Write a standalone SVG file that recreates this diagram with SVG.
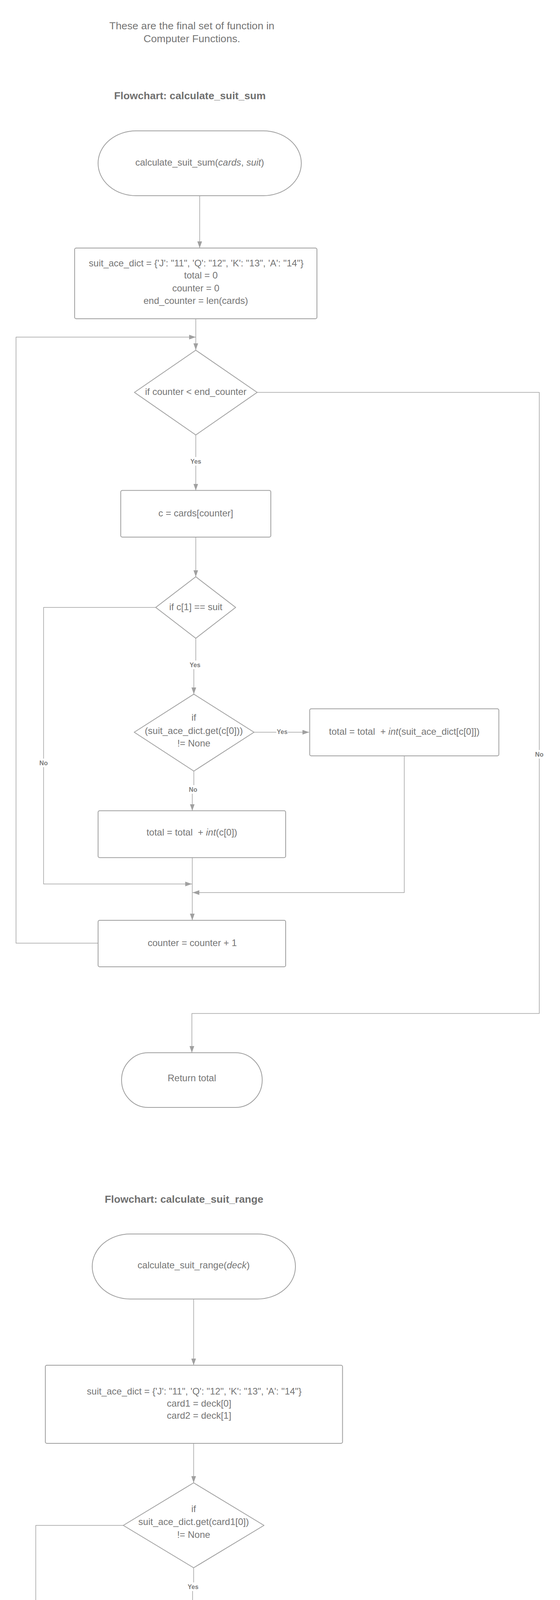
<svg xmlns="http://www.w3.org/2000/svg" width="1433" height="5355" viewBox="0 0 1433 5355">
<style>
text{font-family:"Liberation Sans",Arial,sans-serif;fill:#757575;text-anchor:middle}
.t{font-size:24px}
.h{font-size:26.67px;font-weight:bold;fill:#707070}
.ti{font-size:26.67px}
.lb{font-size:16px;font-weight:bold;fill:#7a7a7a}
.s{fill:#ffffff;stroke:#9e9e9e;stroke-width:2;stroke-linejoin:round}
.c{fill:none;stroke:#a0a0a0;stroke-width:1.5;stroke-linejoin:round;marker-end:url(#ah)}
.cn{fill:none;stroke:#a0a0a0;stroke-width:1.5;stroke-linejoin:round}
.bg{fill:#ffffff}
.i{font-style:italic}
</style>
<defs>
<marker id="ah" viewBox="0 0 17 12" refX="17" refY="6" markerWidth="17" markerHeight="12" markerUnits="userSpaceOnUse" orient="auto">
<path d="M0,0 L17,6 L0,12 z" fill="#a0a0a0"/>
</marker>
</defs>
<rect width="1433" height="5355" fill="#ffffff"/>

<g id="title">
<text class="ti" x="491" y="75">These are the final set of function in</text>
<text class="ti" x="491" y="108">Computer Functions.</text>
</g>
<g id="heading1"><text class="h" x="486" y="254">Flowchart: calculate_suit_sum</text></g>

<g id="connectors">
<path class="c" d="M511,501 V635"/>
<path class="c" d="M501,816 V896"/>
<path class="c" d="M251,2414.5 H41 V863 H501"/>
<path class="c" d="M658,1004.5 H1380 V2594.5 H491 V2695"/>
<path class="c" d="M501,1113.5 V1255.5"/>
<path class="c" d="M501,1375 V1476.5"/>
<path class="c" d="M398.5,1555 H111.5 V2263 H491"/>
<path class="c" d="M501,1634 V1702 H496 V1777"/>
<path class="c" d="M650,1874.5 H791"/>
<path class="c" d="M1034.5,1935 V2285 H493"/>
<path class="c" d="M496,1974 V2021 H492 V2075.5"/>
<path class="c" d="M492,2195.5 V2356"/>
<path class="c" d="M495.5,3325.5 V3495"/>
<path class="c" d="M495.5,3695 V3796"/>
<path class="c" d="M315.5,3905 H91.5 V4774 H492 V4836"/>
<path class="c" d="M495.5,4013.5 V4062 H492.7 V4116.5"/>
<path class="c" d="M672,4224.5 H809"/>
<path class="c" d="M492.7,4334 V4455"/>
<path class="c" d="M672,4945 H829"/>
<path class="c" d="M492,5053.5 V5175"/>
<g id="labels">
<rect class="bg" x="486" y="1170" width="30" height="22"/><text class="lb" x="501" y="1187">Yes</text>
<rect class="bg" x="1368" y="1920" width="24" height="22"/><text class="lb" x="1380" y="1937">No</text>
<rect class="bg" x="99" y="1942" width="24" height="22"/><text class="lb" x="111.5" y="1959">No</text>
<rect class="bg" x="484" y="1691" width="30" height="22"/><text class="lb" x="499" y="1708">Yes</text>
<rect class="bg" x="707" y="1864" width="30" height="20"/><text class="lb" x="722" y="1879">Yes</text>
<rect class="bg" x="482" y="2010" width="24" height="22"/><text class="lb" x="494" y="2027">No</text>
<rect class="bg" x="79" y="4444" width="24" height="22"/><text class="lb" x="91.5" y="4461">No</text>
<rect class="bg" x="479" y="4051" width="30" height="22"/><text class="lb" x="494" y="4068">Yes</text>
<rect class="bg" x="725" y="4214" width="30" height="20"/><text class="lb" x="740" y="4229">Yes</text>
<rect class="bg" x="480" y="4380" width="24" height="22"/><text class="lb" x="492.7" y="4397">No</text>
<rect class="bg" x="735" y="4934" width="30" height="20"/><text class="lb" x="749.5" y="4948">Yes</text>
<rect class="bg" x="480" y="5100" width="24" height="22"/><text class="lb" x="492" y="5117">No</text>
</g>
</g>

<g id="start1">
<rect class="s" x="251" y="335" width="520" height="166" rx="97" ry="83"/>
<text class="t" x="511" y="424">calculate_suit_sum(<tspan class="i">cards</tspan>, <tspan class="i">suit</tspan>)</text>
</g>
<g id="init1">
<rect class="s" x="191" y="635" width="620" height="181" rx="4"/>
<text class="t" x="502" y="682">suit_ace_dict = {'J': "11", 'Q': "12", 'K': "13", 'A': "14"}</text>
<text class="t" x="514" y="713">total = 0</text>
<text class="t" x="501" y="745.5">counter = 0</text>
<text class="t" x="501" y="778">end_counter = len(cards)</text>
</g>
<g id="cond1">
<path class="s" d="M501,896.5 L658,1004.5 L501,1113.5 L344,1004.5 Z"/>
<text class="t" x="501" y="1011">if counter &lt; end_counter</text>
</g>
<g id="getcard">
<rect class="s" x="309" y="1255.5" width="384" height="119.5" rx="4"/>
<text class="t" x="501" y="1322">c = cards[counter]</text>
</g>
<g id="cond2">
<path class="s" d="M501,1476.5 L603,1555 L501,1634 L398.5,1555 Z"/>
<text class="t" x="501" y="1561.5">if c[1] == suit</text>
</g>
<g id="cond3">
<path class="s" d="M496,1777 L650,1874.5 L496,1974 L343.5,1874.5 Z"/>
<text class="t" x="496" y="1845">if</text>
<text class="t" x="496" y="1879">(suit_ace_dict.get(c[0]))</text>
<text class="t" x="496" y="1911">!= None</text>
</g>
<g id="addface">
<rect class="s" x="792.5" y="1814.5" width="484" height="120.5" rx="4"/>
<text class="t" x="1034.5" y="1881">total = total&#160; + <tspan class="i">int</tspan>(suit_ace_dict[c[0]])</text>
</g>
<g id="addnum">
<rect class="s" x="251" y="2075.5" width="480" height="120" rx="4"/>
<text class="t" x="491" y="2139">total = total&#160; + <tspan class="i">int</tspan>(c[0])</text>
</g>
<g id="incr">
<rect class="s" x="251" y="2356" width="480" height="119" rx="4"/>
<text class="t" x="492" y="2422">counter = counter + 1</text>
</g>
<g id="ret1">
<rect class="s" x="311" y="2695" width="360" height="140" rx="68" ry="70"/>
<text class="t" x="491" y="2768">Return total</text>
</g>

<g id="heading2"><text class="h" x="471" y="3079">Flowchart: calculate_suit_range</text></g>
<g id="start2">
<rect class="s" x="236" y="3159" width="520" height="166.5" rx="97" ry="83"/>
<text class="t" x="495.5" y="3247">calculate_suit_range(<tspan class="i">deck</tspan>)</text>
</g>
<g id="init2">
<rect class="s" x="116" y="3495" width="760.5" height="200" rx="4"/>
<text class="t" x="497" y="3570">suit_ace_dict = {'J': "11", 'Q': "12", 'K': "13", 'A': "14"}</text>
<text class="t" x="509.5" y="3601">card1 = deck[0]</text>
<text class="t" x="509.5" y="3632">card2 = deck[1]</text>
</g>
<g id="cond4">
<path class="s" d="M495.5,3796 L675.5,3905 L495.5,4013.5 L315.5,3905 Z"/>
<text class="t" x="495.5" y="3871">if</text>
<text class="t" x="495.5" y="3904">suit_ace_dict.get(card1[0])</text>
<text class="t" x="495.5" y="3937">!= None</text>
</g>
<g id="cond5">
<path class="s" d="M492.7,4116.5 L672,4224.5 L492.7,4334 L313.5,4224.5 Z"/>
<text class="t" x="492.7" y="4191">if</text>
<text class="t" x="492.7" y="4224">suit_ace_dict.get(deck[1][0])</text>
<text class="t" x="492.7" y="4257">!= None</text>
</g>
<g id="ret2">
<rect class="s" x="811" y="4155" width="520" height="140" rx="97" ry="70"/>
<text class="t" x="1071" y="4216">Return abs(<tspan class="i">int</tspan>(suit_ace_dict[card1[0]]) -</text>
<text class="t" x="1071" y="4248"><tspan class="i">int</tspan>(suit_ace_dict[card2[0]]))</text>
</g>
<g id="ret3">
<rect class="s" x="231" y="4455" width="520" height="140" rx="97" ry="70"/>
<text class="t" x="492" y="4511">Return abs(<tspan class="i">int</tspan>(suit_ace_dict[card1[0]]) -</text>
<text class="t" x="491" y="4543"><tspan class="i">int</tspan>(card2[0]))</text>
</g>
<g id="cond6">
<path class="s" d="M492,4836 L672,4945 L492,5053.5 L313.5,4945 Z"/>
<text class="t" x="492" y="4911">if</text>
<text class="t" x="492" y="4944">suit_ace_dict.get(card2[0])</text>
<text class="t" x="492" y="4976">!= None</text>
</g>
<g id="ret4">
<rect class="s" x="831" y="4875" width="520" height="140" rx="97" ry="70"/>
<text class="t" x="1091" y="4935.5">Return abs(<tspan class="i">int</tspan>(card1[0]) -</text>
<text class="t" x="1091" y="4967.5"><tspan class="i">int</tspan>(suit_ace_dict[card2[0]]))</text>
</g>
<g id="ret5">
<rect class="s" x="233" y="5175" width="519" height="140" rx="97" ry="70"/>
<text class="t" x="492" y="5248">Return abs(<tspan class="i">int</tspan>(deck[0][0]) - <tspan class="i">int</tspan>(deck[1][0]))</text>
</g>
</svg>
